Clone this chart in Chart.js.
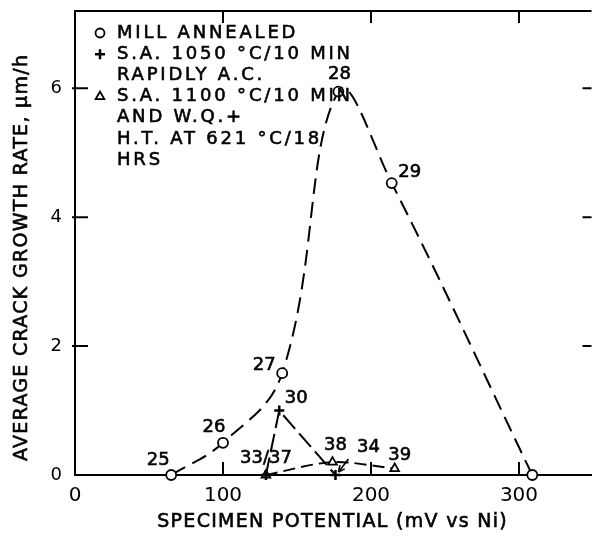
<!DOCTYPE html>
<html>
<head>
<meta charset="utf-8">
<script src="https://cdn.jsdelivr.net/npm/chart.js@4.4.1/dist/chart.umd.min.js"></script>
<style>
    html, body { margin: 0; padding: 0; background: #fff; overflow: hidden; }
    /* a little wider than the window: the right frame of the figure is cut off */
    #wrap { width: 599px; height: 539px; position: relative; }
</style>
</head>
<body>
<div id="wrap"><canvas id="chart"></canvas></div>
<script>
// Values: specimen potential (mV vs Ni) vs crack growth rate (um/h)
const millX = [65, 100, 140, 178, 214, 309];
const millY = [0, 0.5, 1.58, 5.95, 4.53, 0];
const millIds = ['25', '26', '27', '28', '29', ''];

const sa1050X = [129, 138, 176];
const sa1050Y = [0, 1.0, 0];
const sa1050Ids = ['33/37', '30', '34'];

const sa1100X = [129, 174, 216];
const sa1100Y = [0, 0.2, 0.1];
const sa1100Ids = ['', '38', '39'];

const xTicks = [0, 100, 200, 300];
const yTicks = [0, 2, 4, 6];

const xTitle = 'SPECIMEN POTENTIAL (mV vs Ni)';
const yTitle = 'AVERAGE CRACK GROWTH RATE, μm/h';

const legendRows = [
    { mark: 'circle', text: 'MILL ANNEALED' },
    { mark: 'cross', text: 'S.A. 1050 °C/10 MIN' },
    { mark: null, text: 'RAPIDLY A.C.' },
    { mark: 'triangle', text: 'S.A. 1100 °C/10 MIN' },
    { mark: null, text: 'AND W.Q.+' },
    { mark: null, text: 'H.T. AT 621 °C/18' },
    { mark: null, text: 'HRS' },
];

const FONT = "'DejaVu Sans', sans-serif";
const INK = 0.6;   // extra stroke on lettering

const toPoints = (xs, ys) => xs.map((v, i) => ({ x: v, y: ys[i] }));

// label placement next to each numbered specimen (pixels from the mark)
const LABEL_OFFSET = {
    '25': [-13, -15], '26': [-9, -15], '27': [-18, -8], '28': [1, -17], '29': [18, -11],
    '30': [17, -12], '33/37': [0, -17], '34': [33, -28], '38': [3, -17], '39': [5, -13],
};

// heavier lettering, like the inked original
function inkText(ctx, text, x, y) {
    ctx.lineWidth = INK;
    ctx.fillText(text, x, y);
    ctx.strokeText(text, x, y);
}

// text with letter spacing, centred on (cx, cy)
function spacedText(ctx, text, cx, cy, spacing) {
    ctx.letterSpacing = spacing + 'px';
    const w = ctx.measureText(text).width - spacing;
    ctx.textAlign = 'left';
    inkText(ctx, text, cx - w / 2, cy);
    ctx.letterSpacing = '0px';
}

const annotate = {
    id: 'annotate',
    afterDatasetsDraw(chart) {
        const { ctx, chartArea: a, scales: { x, y } } = chart;
        ctx.save();
        ctx.strokeStyle = '#000';
        ctx.fillStyle = '#000';
        ctx.lineWidth = 2;

        // top frame and inward tick marks
        ctx.beginPath();
        ctx.moveTo(a.left, a.top);
        ctx.lineTo(a.right, a.top);
        xTicks.slice(1).forEach(v => {
            const px = x.getPixelForValue(v);
            ctx.moveTo(px, a.bottom); ctx.lineTo(px, a.bottom - 13);
            ctx.moveTo(px, a.top); ctx.lineTo(px, a.top + 12);
        });
        yTicks.slice(1).forEach(v => {
            const py = y.getPixelForValue(v);
            ctx.moveTo(a.left - 3, py); ctx.lineTo(a.left + 13, py);
            ctx.moveTo(a.right, py); ctx.lineTo(a.right - 9, py);
        });
        ctx.stroke();

        // axis titles
        ctx.font = `19px ${FONT}`;
        ctx.textBaseline = 'middle';
        spacedText(ctx, xTitle, 332, 522, 1.3);
        ctx.save();
        ctx.translate(22, 258);
        ctx.rotate(-Math.PI / 2);
        spacedText(ctx, yTitle, 0, 0, 1.3);
        ctx.restore();

        // specimen numbers
        ctx.font = `18px ${FONT}`;
        ctx.textAlign = 'center';
        ctx.textBaseline = 'middle';
        const idSets = [millIds, sa1050Ids, sa1100Ids];
        chart.data.datasets.forEach((ds, di) => {
            const meta = chart.getDatasetMeta(di);
            meta.data.forEach((pt, i) => {
                const id = idSets[di][i];
                if (!id) return;
                const off = LABEL_OFFSET[id] || [0, -16];
                inkText(ctx, id, pt.x + off[0], pt.y + off[1]);
                if (id === '34') {
                    // arrow from the label down to the mark
                    const x0 = pt.x + 13, y0 = pt.y - 16, x1 = pt.x + 3, y1 = pt.y - 3;
                    ctx.lineWidth = 1.6;
                    ctx.beginPath();
                    ctx.moveTo(x0, y0); ctx.lineTo(x1, y1);
                    ctx.stroke();
                    const ang = Math.atan2(y1 - y0, x1 - x0);
                    ctx.beginPath();
                    ctx.moveTo(x1, y1);
                    ctx.lineTo(x1 - 7 * Math.cos(ang - 0.45), y1 - 7 * Math.sin(ang - 0.45));
                    ctx.moveTo(x1, y1);
                    ctx.lineTo(x1 - 7 * Math.cos(ang + 0.45), y1 - 7 * Math.sin(ang + 0.45));
                    ctx.stroke();
                }
            });
        });

        // key in upper left
        ctx.font = `18px ${FONT}`;
        ctx.textAlign = 'left';
        legendRows.forEach((row, i) => {
            const ry = a.top + 22 + i * 21.2;
            if (row.mark) {
                const bw = row.mark === 'cross' ? 2.5 : 1.8;
                ctx.fillStyle = '#fff';
                ctx.lineWidth = bw;
                Chart.helpers.drawPoint(ctx, {
                    pointStyle: row.mark, radius: row.mark === 'circle' ? 4.5 : 5,
                    borderWidth: bw, rotation: 0,
                }, a.left + 25, ry);
                ctx.fillStyle = '#000';
            }
            ctx.letterSpacing = '2.8px';
            inkText(ctx, row.text, a.left + 42, ry);
            ctx.letterSpacing = '0px';
        });
        ctx.restore();
    }
};

const dashed = {
    borderColor: '#000',
    borderWidth: 2,
    pointBorderColor: '#000',
    pointBackgroundColor: '#fff',
    showLine: true,
    clip: false,
};

new Chart(document.getElementById('chart'), {
    type: 'scatter',
    data: {
        datasets: [
            {
                ...dashed,
                label: 'Mill annealed',
                data: toPoints(millX, millY),
                borderDash: [16, 8],
                tension: 0.4,
                pointStyle: 'circle',
                pointRadius: 5,
                pointBorderWidth: 1.8,
            },
            {
                ...dashed,
                label: 'S.A. 1050 °C/10 min, rapidly A.C.',
                data: toPoints(sa1050X, sa1050Y),
                borderDash: [18, 6],
                pointStyle: 'cross',
                pointRadius: 5,
                pointBorderWidth: 2.5,
            },
            {
                ...dashed,
                label: 'S.A. 1100 °C/10 min, W.Q. + H.T. 621 °C/18 h',
                data: toPoints(sa1100X, sa1100Y),
                borderDash: [12, 6],
                tension: 0.3,
                pointStyle: 'triangle',
                pointRadius: 5,
                pointBorderWidth: 1.8,
            },
        ],
    },
    options: {
        responsive: true,
        maintainAspectRatio: false,
        animation: false,
        layout: { padding: { left: 0, right: 0, top: 11, bottom: 0 } },
        plugins: { legend: { display: false }, tooltip: { enabled: false } },
        scales: {
            x: {
                type: 'linear',
                min: 0,
                max: 349,
                afterBuildTicks: s => { s.ticks = xTicks.map(v => ({ value: v })); },
                afterFit: s => { s.height = 64; s.paddingLeft = 0; s.paddingRight = 0; },
                grid: { drawOnChartArea: false, drawTicks: false },
                border: { display: true, color: '#000', width: 2 },
                ticks: { color: '#000', padding: 9, font: { family: FONT, size: 20 } },
            },
            y: {
                type: 'linear',
                min: 0,
                max: 7.2,
                afterBuildTicks: s => { s.ticks = yTicks.map(v => ({ value: v })); },
                afterFit: s => { s.width = 75; s.paddingTop = 0; s.paddingBottom = 0; },
                grid: { drawOnChartArea: false, drawTicks: false },
                border: { display: true, color: '#000', width: 2 },
                ticks: { color: '#000', padding: 13, font: { family: FONT, size: 18 } },
            },
        },
    },
    plugins: [annotate],
});
</script>
</body>
</html>
